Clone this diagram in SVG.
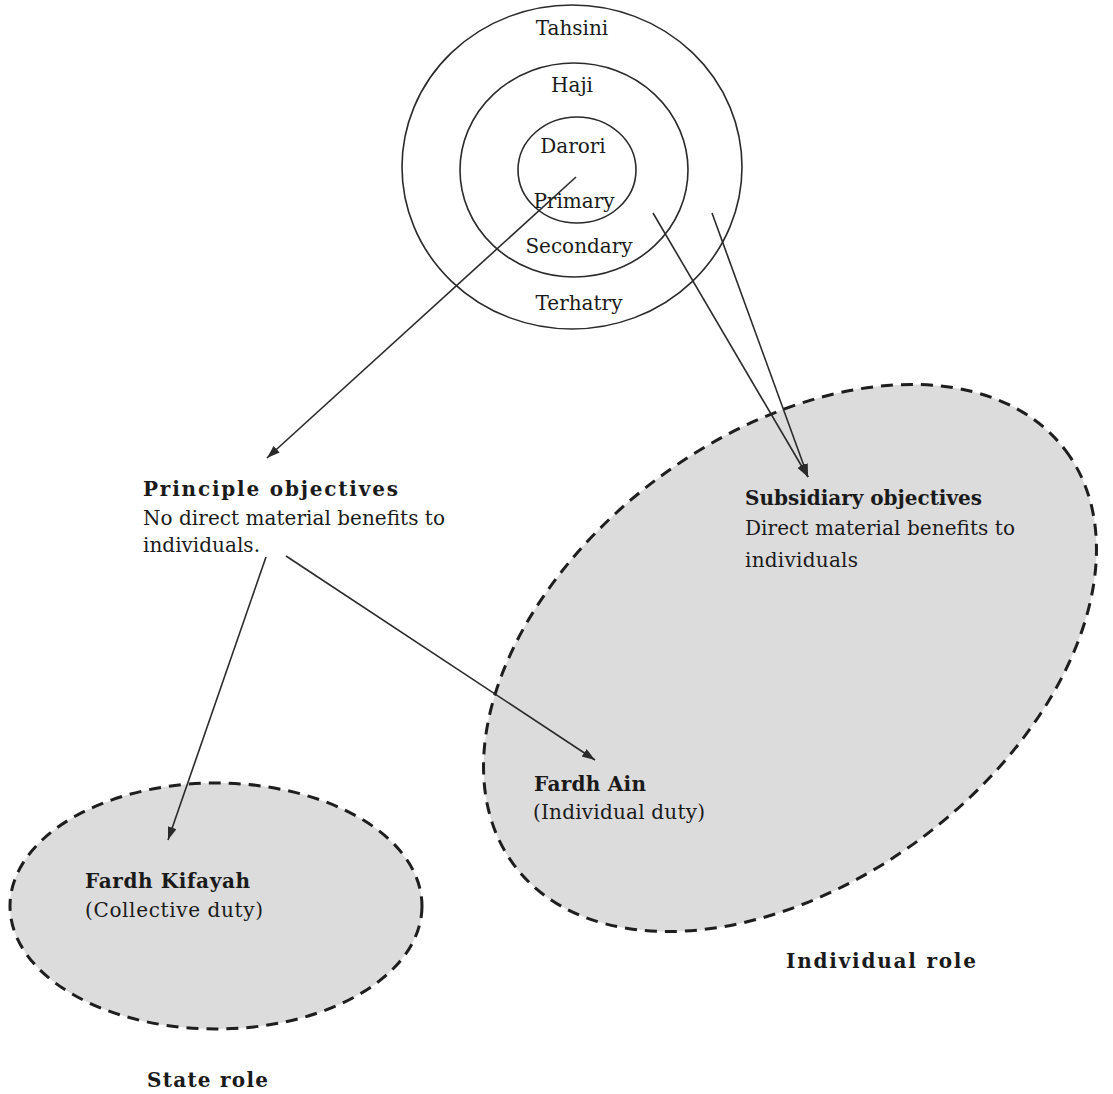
<svg xmlns="http://www.w3.org/2000/svg" width="1113" height="1094" viewBox="0 0 1113 1094">
<style>
.ring{fill:none;stroke:#2a2a2a;stroke-width:1.6}
.role{fill:#dcdcdc;stroke:#1e1e1e;stroke-width:3;stroke-dasharray:12 8}
.t{font-family:"DejaVu Serif","Liberation Serif",serif;font-size:20px;fill:#1a1a1a}
.b{font-family:"DejaVu Serif","Liberation Serif",serif;font-weight:bold;font-size:20px;fill:#1a1a1a}
.c{text-anchor:middle}
.conn line{stroke:#2a2a2a;stroke-width:1.6;marker-end:url(#ah)}
</style>
<defs>
<marker id="ah" markerWidth="14" markerHeight="10" refX="13" refY="4.5" orient="auto" markerUnits="userSpaceOnUse">
<path d="M0,0 L13,4.5 L0,9 z" fill="#2a2a2a"/>
</marker>
</defs>
<rect width="1113" height="1094" fill="#ffffff"/>
<g id="individual-role">
<ellipse class="role" cx="790" cy="658" rx="345" ry="223" transform="rotate(-37 790 658)"/>
<text class="b" x="786" y="968" font-size="23" textLength="190">Individual role</text>
</g>
<g id="state-role">
<ellipse class="role" cx="216" cy="906" rx="206" ry="123"/>
<text class="b" x="147" y="1087" font-size="22" textLength="121">State role</text>
</g>
<g id="maqasid-circles">
<ellipse class="ring" cx="572" cy="167" rx="170" ry="162"/>
<ellipse class="ring" cx="574" cy="170" rx="114" ry="107"/>
<ellipse class="ring" cx="577" cy="170" rx="59" ry="53"/>
<text class="t c" x="572" y="35">Tahsini</text>
<text class="t c" x="572" y="92">Haji</text>
<text class="t c" x="573" y="153">Darori</text>
<text class="t c" x="574" y="208">Primary</text>
<text class="t c" x="579" y="253">Secondary</text>
<text class="t c" x="579" y="310">Terhatry</text>
</g>
<g id="principle-objectives">
<text class="b" x="143" y="496" font-size="22" textLength="255">Principle objectives</text>
<text class="t" x="143" y="525" textLength="302">No direct material benefits to</text>
<text class="t" x="143" y="552" textLength="117">individuals.</text>
</g>
<g id="subsidiary-objectives">
<text class="b" x="745" y="505" textLength="237">Subsidiary objectives</text>
<text class="t" x="745" y="535" textLength="270">Direct material benefits to</text>
<text class="t" x="745" y="567" textLength="113">individuals</text>
</g>
<g id="fardh-ain">
<text class="b" x="534" y="791" font-size="21" textLength="112">Fardh Ain</text>
<text class="t" x="533" y="819" textLength="172">(Individual duty)</text>
</g>
<g id="fardh-kifayah">
<text class="b" x="85" y="888" textLength="165">Fardh Kifayah</text>
<text class="t" x="85" y="917" textLength="178">(Collective duty)</text>
</g>
<g id="connectors" class="conn">
<line x1="576" y1="177" x2="267" y2="458"/>
<line x1="653" y1="213" x2="808" y2="477"/>
<line x1="712" y1="213" x2="808" y2="477"/>
<line x1="266" y1="557" x2="168" y2="840"/>
<line x1="286" y1="556" x2="595" y2="760"/>
</g>
</svg>
